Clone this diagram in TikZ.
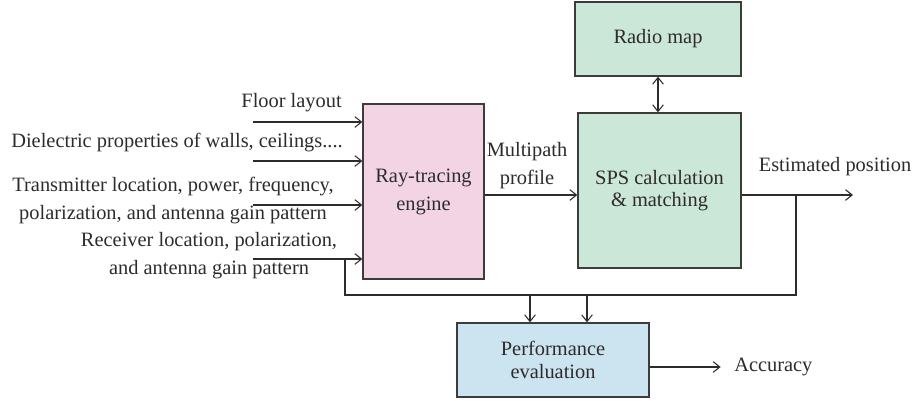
\documentclass[tikz,border=0pt]{standalone}
\usepackage{fontspec}
\setmainfont{Liberation Serif}
\usepackage{xcolor}
\usepackage{tikz}
\usetikzlibrary{calc,arrows.meta}
\definecolor{ink}{HTML}{2E2B2C}
\definecolor{edge}{HTML}{3C3C3C}
\definecolor{pinkbg}{HTML}{F2D4E5}
\definecolor{greenbg}{HTML}{CBE7D7}
\definecolor{bluebg}{HTML}{CBE4F0}
\tikzset{
  blk/.style={draw=edge, line width=1pt, inner sep=0pt, align=center, text=ink,
    font=\fontsize{15.3}{21}\selectfont},
  wire/.style={draw=ink, line width=0.8pt},
  arr/.style={wire, -{Straight Barb[length=5pt,width=8pt]}},
  darr/.style={wire, {Straight Barb[length=5pt,width=8pt]}-{Straight Barb[length=5pt,width=8pt]}},
  lab/.style={text=ink, font=\fontsize{15.3}{21}\selectfont, inner sep=0pt, align=center}
}

\begin{document}
\begin{tikzpicture}[x=0.75pt,y=-0.75pt]
  \useasboundingbox (0,0) rectangle (920,400);
  % boxes
  \node[blk, fill=pinkbg, minimum width=90.75pt, minimum height=131.25pt] (rt) at (423.5,191.5) {Ray-tracing\\engine};
  \node[blk, fill=greenbg, minimum width=122.25pt, minimum height=116.25pt,
    font=\fontsize{15.3}{16.5}\selectfont] (sps) at (659.5,190.5) {SPS calculation\\\& matching};
  \node[blk, fill=greenbg, minimum width=124.5pt, minimum height=55.5pt] (rmap) at (658,39) {Radio map};
  \node[blk, fill=bluebg, minimum width=144pt, minimum height=55.5pt,
    font=\fontsize{15.3}{17}\selectfont] (perf) at (553,360) {Performance\\evaluation};

  % inputs
  \node[lab, anchor=east] (fl) at (342,103) {Floor layout};
  \node[lab, anchor=east] (di) at (343,143) {Dielectric properties of walls, ceilings....};
  \node[lab] (tx) at (173,201) {Transmitter location, power, frequency,\\polarization, and antenna gain pattern};
  \node[lab] (rx) at (209,256) {Receiver location, polarization,\\and antenna gain pattern};
  \coordinate (a1) at (253,122);
  \coordinate (a2) at (253,161);
  \coordinate (a3) at (253,205);
  \coordinate (a4) at (253,259);
  \foreach \i in {1,...,4}
    \draw[arr] (a\i) -- (a\i -| rt.west);

  % outputs
  \coordinate (lvl) at (0,195);
  \coordinate (out) at (853,195);
  \node[lab] (mp) at (527,166) {Multipath\\profile};
  \node[lab] (est) at (835,167) {Estimated position};
  \draw[arr] (rt.east |- lvl) -- (sps.west |- lvl);
  \draw[arr] (sps.east |- lvl) -- (out);
  \draw[darr] (rmap.south) -- (rmap.south |- sps.north);

  % feedback to evaluation
  \coordinate (fb) at (796,195);
  \coordinate (lft) at (345,259);
  \coordinate (bot) at (0,295);
  \draw[wire] (fb) |- (lft |- bot) -- (lft);
  \coordinate (d1) at (530,295);
  \coordinate (d2) at (587,295);
  \draw[arr] (d1) -- (d1 |- perf.north);
  \draw[arr] (d2) -- (d2 |- perf.north);

  \node[lab, anchor=west] (acc) at (734,367) {Accuracy};
  \draw[arr] (perf.east |- acc.west) -- ++(71,0);
\end{tikzpicture}
\end{document}
